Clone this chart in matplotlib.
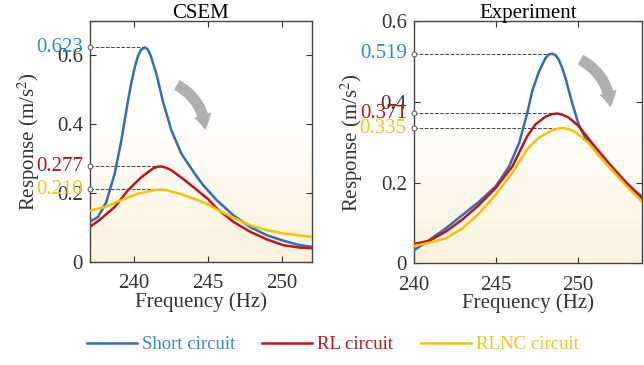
import numpy as np
import matplotlib.pyplot as plt
from matplotlib.patches import FancyArrowPatch
from matplotlib.colors import LinearSegmentedColormap

plt.rcParams['font.family'] = ['Liberation Serif', 'DejaVu Serif']
plt.rcParams['mathtext.fontset'] = 'stix'

# ---- CSEM ----
csem_short_f = [237.05, 237.61, 238.17, 238.73, 239.18, 239.4, 239.63, 239.85, 240.08, 240.3, 240.5, 240.75,
                240.95, 241.15, 241.54, 241.99, 242.55, 243.22, 244.12, 244.7, 245.6, 246.72, 247.85,
                248.97, 250.09, 251.21, 252.1]
csem_short_y = [0.116, 0.130, 0.174, 0.256, 0.353, 0.41, 0.469, 0.52, 0.565, 0.598, 0.616, 0.623,
                0.618, 0.600, 0.546, 0.464, 0.382, 0.314, 0.256, 0.222, 0.179, 0.135, 0.101,
                0.077, 0.061, 0.048, 0.043]
csem_rl_f = [237.05, 237.7, 238.73, 239.63, 240.53, 241.31, 241.6, 241.87, 242.15, 242.55, 243.45, 244.34,
             245.02, 245.6, 246.72, 247.85, 248.97, 250.09, 251.21, 252.1]
csem_rl_y = [0.101, 0.121, 0.159, 0.208, 0.246, 0.271, 0.276, 0.277, 0.274, 0.266, 0.237, 0.206,
             0.182, 0.155, 0.116, 0.087, 0.065, 0.048, 0.041, 0.039]
csem_rlnc_f = [237.05, 238.06, 239.18, 240.3, 241.43, 241.8, 242.19, 243.22, 244.34, 245.02, 245.6,
               246.72, 247.85, 248.97, 250.09, 251.21, 252.1]
csem_rlnc_y = [0.148, 0.159, 0.179, 0.198, 0.208, 0.210, 0.208, 0.196, 0.179, 0.166, 0.152,
               0.128, 0.106, 0.092, 0.082, 0.076, 0.072]

# ---- Experiment ----
exp_short_f = [240.05, 240.96, 241.97, 242.98, 243.99, 245.0, 245.81, 246.42, 246.92, 247.22, 247.61, 248.02,
               248.22, 248.42, 248.62, 248.82, 249.03, 249.23, 249.64, 250.04, 250.44, 251.25, 252.06,
               252.87, 253.88]
exp_short_y = [0.033, 0.058, 0.087, 0.120, 0.153, 0.191, 0.240, 0.298, 0.373, 0.427, 0.473, 0.508,
               0.517, 0.519, 0.516, 0.505, 0.485, 0.460, 0.398, 0.344, 0.311, 0.269, 0.232,
               0.199, 0.166]
exp_rl_f = [240.05, 240.96, 241.97, 242.98, 243.99, 245.0, 246.01, 246.9, 247.41, 248.02, 248.4, 248.73,
            249.05, 249.43, 250.04, 250.85, 251.86, 252.87, 253.88]
exp_rl_y = [0.048, 0.056, 0.079, 0.109, 0.145, 0.187, 0.240, 0.314, 0.344, 0.363, 0.369, 0.371,
            0.368, 0.361, 0.340, 0.298, 0.249, 0.203, 0.162]
exp_rlnc_f = [240.05, 240.96, 241.97, 242.98, 243.99, 245.0, 246.01, 246.9, 247.61, 248.42, 248.8, 249.13,
              249.45, 249.84, 250.64, 251.66, 252.87, 253.88]
exp_rlnc_y = [0.043, 0.051, 0.062, 0.087, 0.124, 0.170, 0.224, 0.282, 0.311, 0.329, 0.334, 0.335,
              0.332, 0.325, 0.298, 0.249, 0.195, 0.153]

peaks_csem = [(240.75, 0.623), (241.87, 0.277), (241.8, 0.210)]
peaks_exp = [(248.42, 0.519), (248.73, 0.371), (249.13, 0.335)]
peak_labels_csem = ['0.623', '0.277', '0.210']
peak_labels_exp = ['0.519', '0.371', '0.335']

line_colors = ['#2F6DB5', '#C0141C', '#F5C200']
label_colors = ['#2E8BC8', '#B5121B', '#F0C419']
names = ['Short circuit', 'RL circuit', 'RLNC circuit']

bg = LinearSegmentedColormap.from_list('bg', [(0, '#FCF2DC'), (0.6, '#FFFFFF'), (1, '#FFFFFF')])

fig = plt.figure(figsize=(6.44, 3.65), dpi=100)
ax1 = fig.add_axes([0.1398, 0.283, 0.3443, 0.6595])
ax2 = fig.add_axes([0.6424, 0.2786, 0.3545, 0.6638])


def setup(ax, xlim, ylim, title, series, peaks, plabels, arrow):
    ax.set_xlim(xlim)
    ax.set_ylim(ylim)
    grad = np.linspace(0, 1, 256).reshape(-1, 1)
    ax.imshow(grad, cmap=bg, extent=[xlim[0], xlim[1], ylim[0], ylim[1]],
              origin='lower', aspect='auto', zorder=0)
    for (f, y), c in zip(series, line_colors):
        ax.plot(f, y, color=c, lw=1.8, zorder=3, solid_joinstyle='round')
    for (pf, pv), lab, c in zip(peaks, plabels, label_colors):
        ax.plot([xlim[0], pf], [pv, pv], ls='--', color='#444444', lw=0.7, zorder=2)
        ax.plot(xlim[0], pv, 'o', ms=3.5, mfc='white', mec='#555555', mew=0.7,
                clip_on=False, zorder=5)
        ax.annotate(lab, xy=(xlim[0], pv), xytext=(-5, 0), textcoords='offset points',
                    ha='right', va='center', color=c, fontsize=15, zorder=6,
                    annotation_clip=False)
    ax.set_title(title, fontsize=15, pad=2)
    ax.set_xticks([240, 245, 250])
    ax.set_yticks([0, 0.2, 0.4, 0.6])
    ax.set_yticklabels(['0', '0.2', '0.4', '0.6'])
    ax.tick_params(direction='in', top=True, right=True, labelsize=15,
                   length=4, width=0.8, colors='#333333', labelcolor='#333333')
    ax.tick_params(axis='x', pad=9)
    ax.tick_params(axis='y', pad=5)
    for s in ax.spines.values():
        s.set_color('#444444')
        s.set_linewidth(1.0)
    ax.set_xlabel('Frequency (Hz)', fontsize=15, labelpad=-1, color='#333333')
    ax.set_ylabel('Response (m/s$^2$)', fontsize=15, labelpad=11, color='#333333')
    arr = FancyArrowPatch(arrow[0], arrow[1], transform=ax.transAxes,
                          connectionstyle='arc3,rad=-0.3',
                          arrowstyle='simple,head_width=13,head_length=11,tail_width=8',
                          color='#A6A6A6', alpha=0.9, lw=0, zorder=4)
    ax.add_patch(arr)


setup(ax1, (237.07, 252.0), (0, 0.70), 'CSEM',
      [(csem_short_f, csem_short_y), (csem_rl_f, csem_rl_y), (csem_rlnc_f, csem_rlnc_y)],
      peaks_csem, peak_labels_csem, ((0.38, 0.74), (0.52, 0.535)))
setup(ax2, (240.0, 253.9), (0, 0.6), 'Experiment',
      [(exp_short_f, exp_short_y), (exp_rl_f, exp_rl_y), (exp_rlnc_f, exp_rlnc_y)],
      peaks_exp, peak_labels_exp, ((0.72, 0.846), (0.862, 0.632)))

handles = [plt.Line2D([], [], color=c, lw=1.8) for c in line_colors]
leg = fig.legend(handles, names, loc='center left', bbox_to_anchor=(0.123, 0.055),
                 ncol=3, frameon=False, fontsize=13.5, handlelength=2.67,
                 handletextpad=0.27, columnspacing=1.45, borderaxespad=0)
for t, c in zip(leg.get_texts(), label_colors):
    t.set_color(c)

fig.savefig('out.png', dpi=100)
